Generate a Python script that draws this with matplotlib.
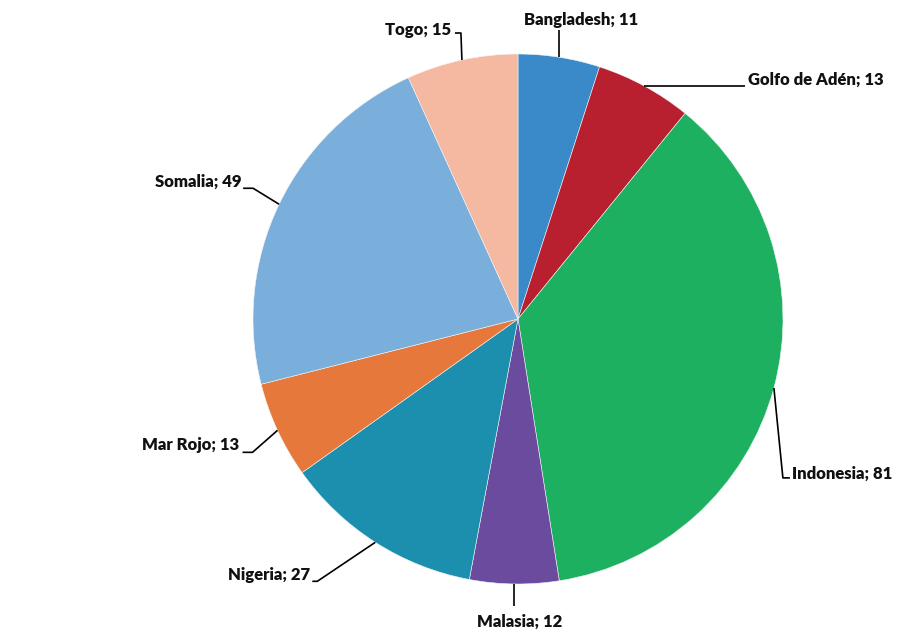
import numpy as np
import matplotlib
matplotlib.use('Agg')
import matplotlib.pyplot as plt

labels = ['Bangladesh', 'Golfo de Adén', 'Indonesia', 'Malasia', 'Nigeria', 'Mar Rojo', 'Somalia', 'Togo']
values = [11, 13, 81, 12, 27, 13, 49, 15]
colors = ['#3A89C9', '#B8202F', '#1DB060', '#6A4B9E', '#1C8FAE', '#E5783A', '#7AAFDC', '#F5B8A0']

# leader line bends (pixels, y up) from the rim point, then text offset from the line end
leaders = {
    'Bangladesh':    ([(0, 27)], (22, 10), 'center'),
    'Golfo de Adén': ([(101, 0)], (3, 6), 'left'),
    'Indonesia':     ([(9, -90), (16, -90)], (2, 4), 'left'),
    'Malasia':       ([(0, -22)], (5, -16), 'center'),
    'Nigeria':       ([(-58, -39), (-63, -39)], (-2, 6), 'right'),
    'Mar Rojo':      ([(-25, -22), (-35, -22)], (-3, 7), 'right'),
    'Somalia':       ([(-26, 16), (-36, 16)], (-2, 6), 'right'),
    'Togo':          ([(-1, 27), (-7, 27)], (-4, 3), 'right'),
}

W, H = 906, 631
cx, cy, r = 518, H - 319, 265

fig = plt.figure(figsize=(W / 100, H / 100), dpi=100)
ax = fig.add_axes([0, 0, 1, 1])

wedges, _ = ax.pie(values, colors=colors, startangle=90, counterclock=False,
                   center=(cx, cy), radius=r, frame=True,
                   wedgeprops=dict(edgecolor='#f4f4f4', linewidth=0.4))
ax.set_xlim(0, W)
ax.set_ylim(0, H)
ax.set_aspect('equal')
ax.axis('off')

for w, lab, v in zip(wedges, labels, values):
    ang = np.deg2rad((w.theta1 + w.theta2) / 2)
    x0, y0 = cx + r * np.cos(ang), cy + r * np.sin(ang)
    bends, toff, ha = leaders[lab]
    xs = [x0] + [x0 + dx for dx, dy in bends]
    ys = [y0] + [y0 + dy for dx, dy in bends]
    ax.plot(xs, ys, color='black', lw=1.2, solid_capstyle='butt')
    ax.text(xs[-1] + toff[0], ys[-1] + toff[1], f'{lab}; {v}', ha=ha, va='center',
            fontsize=12, fontweight='heavy', family='Lato', color='#111111')

fig.savefig('out.png', dpi=100, facecolor='white')
